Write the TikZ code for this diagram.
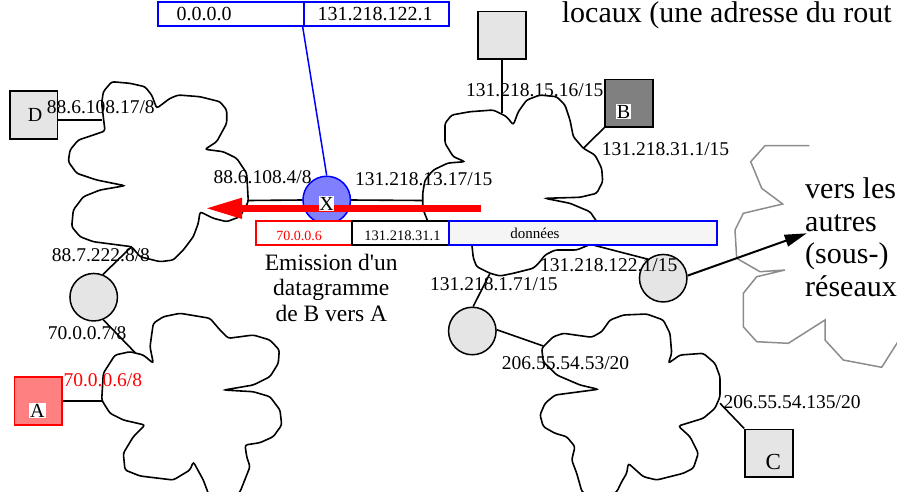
\documentclass[tikz,border=0pt]{standalone}
\usepackage{fontspec}
\setmainfont{Liberation Serif}
\usetikzlibrary{arrows.meta}
\definecolor{lightg}{HTML}{E5E5E5}
\definecolor{darkg}{HTML}{808080}
\definecolor{cloudg}{HTML}{8C8C8C}
\definecolor{xblue}{HTML}{8080FF}
\definecolor{apink}{HTML}{FF8080}
\definecolor{datag}{HTML}{F5F5F5}
\tikzset{
  cloudline/.style={line width=1.6pt, rounded corners=2.5pt},
  conn/.style={line width=1.6pt},
  sqbox/.style={rectangle, draw, line width=1.8pt, minimum size=47.5pt, inner sep=0pt},
  rtr/.style={circle, draw, line width=1.5pt, fill=lightg, minimum size=47.5pt, inner sep=0pt},
  lbl/.style={font=\fontsize{19.5}{22}\selectfont, anchor=base west, inner sep=0pt},
  letter/.style={font=\fontsize{20}{22}\selectfont, inner sep=1pt},
  tabbox/.style={rectangle, line width=1.9pt, minimum height=24pt, inner sep=0pt, anchor=north west},
  big/.style={font=\fontsize{30}{32}\selectfont, anchor=base west, inner sep=0pt},
  mid/.style={font=\fontsize{23.5}{25}\selectfont, anchor=base, inner sep=0pt}
}
\begin{document}
\begin{tikzpicture}[x=1pt,y=-1pt]
\useasboundingbox (0,0) rectangle (897,491);
\clip (0,0) rectangle (897,491);

% ---- clouds ----
\draw[cloudline] (105,131) -- (101.7,103.3) -- (103.3,91.7) -- (111.7,81.7) -- (130,83.3) -- (145,86.7) -- (151.7,95) -- (156.7,108.3) -- (170,98.3) -- (178.3,95) -- (200,96.7) -- (220,101.7) -- (226.7,110) -- (226.7,123.3) -- (216.7,141.7) -- (205,149.3) -- (223.3,151.7) -- (236.7,158.3) -- (246.7,173.3) -- (248.3,201.7) -- (240,216.7) -- (226.7,221.7) -- (213.3,218.3) -- (200,211.7) -- (198.3,223.3) -- (193.3,236.7) -- (183.3,250) -- (173.3,260) -- (160,261.7) -- (140,256.7) -- (131.7,246.7) -- (93.3,241.7) -- (80,236.7) -- (71.7,226.7) -- (73.3,210) -- (83.3,196.7) -- (100,190) -- (125,185.7) -- (96.7,180) -- (76.7,173.3) -- (68.3,161.7) -- (70,150) -- (78.3,140) -- (93.3,135) -- cycle;

\draw[cloudline] (465,161.7) -- (453.3,156.7) -- (445,143.3) -- (445,123.3) -- (451.7,115) -- (470,111.7) -- (493.3,110) -- (506.7,116.7) -- (513.3,125) -- (518.3,111.7) -- (526.7,100) -- (540,95) -- (556.7,96.7) -- (565,105) -- (570,120) -- (573.3,136.7) -- (583.3,148.3) -- (595,155) -- (601.7,168.3) -- (602.7,181.7) -- (596.7,193.3) -- (580,197.3) -- (545,198.3) -- (570,203.3) -- (590,211.7) -- (597,222) -- (597,236) -- (590,244.5) -- (576.7,250) -- (555,250) -- (545,255) -- (540,261.7) -- (533.3,268.3) -- (513.3,273.3) -- (500,276) -- (490,273.3) -- (476.7,266.7) -- (473.3,258) -- (471.7,243) -- (450,236) -- (428,222) -- (422.7,208.3) -- (422.7,193.3) -- (425,180) -- (433.3,170) -- (448,163) -- cycle;

\draw[cloudline] (153.3,363.3) -- (150,346.7) -- (153.3,323.3) -- (163.3,316.7) -- (180,313.3) -- (210,318.3) -- (220,330) -- (228.3,338.3) -- (253.3,335) -- (270,340) -- (279.3,350) -- (278.3,363.3) -- (270,376.7) -- (253.3,385) -- (224,390) -- (253.3,391.7) -- (270,396.7) -- (280,410) -- (281.7,425) -- (273.3,436.7) -- (260,442.7) -- (245,445) -- (246.7,456.7) -- (250,466.7) -- (240,492) -- (226,505) -- (210,498) -- (203.3,480) -- (193.3,461.7) -- (190,470) -- (173.3,480) -- (140,476) -- (125,470) -- (123.3,453.3) -- (133.3,436.7) -- (145,425) -- (123.3,420) -- (110,413.3) -- (101.7,400) -- (103.3,373.3) -- (115,355) -- (130,351.7) -- (143.3,355) -- cycle;

\draw[cloudline] (598.3,389.3) -- (580,385) -- (556.7,375) -- (543.3,361.7) -- (541.7,348.3) -- (553.3,336.7) -- (563.3,333.3) -- (591.7,337.3) -- (601.7,331.7) -- (610,320) -- (623.3,315) -- (646.7,314) -- (663.3,320) -- (670,333.3) -- (671.7,353.3) -- (668.3,363.3) -- (680,355) -- (703.3,353.3) -- (715,363.3) -- (720,376.7) -- (720,396.7) -- (715,408.3) -- (703.3,418.3) -- (678.3,426) -- (690,436.7) -- (698.3,453.3) -- (693.3,468.3) -- (683.3,473.3) -- (656.7,480) -- (643.3,476.7) -- (628.3,463.3) -- (626.7,473.3) -- (621.7,481.7) -- (616.7,492) -- (600,500) -- (582,492) -- (576.7,473.3) -- (571.7,460) -- (575,446.7) -- (566.7,436.7) -- (555,433.3) -- (543.3,426.7) -- (540,415) -- (545,403.3) -- (555,395) -- cycle;

% grey cloud
\draw[line width=1.5pt, cloudg] (809.3,145.7) -- (765,145.7) -- (750.7,161.7) -- (761.7,188.3) -- (782.7,204) -- (743.3,213.3) -- (735,230) -- (736.7,258.3) -- (760,271.7) -- (785,270) -- (756.7,276.7) -- (743.3,293.3) -- (743.3,326.7) -- (756.7,341.7) -- (788.3,343.3) -- (825,320) -- (825,340) -- (843.3,360) -- (881.7,367.3) -- (899,340);

% ---- attachment coordinates ----
\coordinate (c1d) at (102,119.7);
\coordinate (c1x) at (248.3,200.5);
\coordinate (c1r) at (131.7,246.5);
\coordinate (c2t) at (501.85,113.3);
\coordinate (c2b) at (583.3,148.3);
\coordinate (c2x) at (422.7,200.5);
\coordinate (c2r) at (490,273.3);
\coordinate (c2g) at (591,244.5);
\coordinate (c3a) at (101.7,401);
\coordinate (c3r) at (135,352.5);
\coordinate (c4r) at (543.3,346);
\coordinate (c4c) at (720,403.3);
\coordinate (tip) at (806.7,233.3);
\coordinate (arrS) at (481,208.3);
\coordinate (arrE) at (205,208.3);

% ---- hosts ----
\node[sqbox, fill=lightg] (D) at (33.65,114.85) {};
\node[sqbox, fill=lightg] (T) at (501.85,35.15) {};
\node[sqbox, fill=darkg] (B) at (628.85,103.15) {};
\node[sqbox, draw=red, fill=apink] (A) at (38.15,400.85) {};
\node[sqbox, fill=lightg] (C) at (768.85,453.15) {};

% ---- routers ----
\node[rtr] (R1) at (93.7,297.2) {};
\node[rtr] (R2) at (472.3,331) {};
\node[rtr] (R3) at (663.2,278.2) {};
\node[rtr, draw=blue, fill=xblue] (X) at (326.7,200) {};

% ---- connectors ----
\draw[conn] (c1d -| D.east) -- (c1d);
\draw[conn] (T.south) -- (c2t);
\draw[conn] (B.south west) -- (c2b);
\draw[conn] (c3a -| A.east) -- (c3a);
\draw[conn] (C.north west) -- (c4c);
\draw[conn] (R1.68) -- (c1r);
\draw[conn] (R1.-67) -- (c3r);
\draw[conn] (R2.88) -- (c2r);
\draw[conn] (R2.3) -- (c4r);
\draw[conn] (c2g) -- (R3.129);
\draw[conn] (X.west) -- (c1x);
\draw[conn] (X.east) -- (c2x);
\draw[line width=2pt, -{Triangle[length=22pt,width=12pt]}] (R3.6) -- (tip);

% ---- routing table entry ----
\node[tabbox, draw=blue, fill=white, minimum width=146pt] (tb1) at (156.7,1) {};
\node[tabbox, draw=blue, fill=white, minimum width=145.6pt] (tb2) at (302.7,1) {};
\node[font=\fontsize{20}{22}\selectfont, anchor=base, inner sep=0pt] (t0) at (204,20.7) {0.0.0.0};
\node[font=\fontsize{20}{22}\selectfont, anchor=base, inner sep=0pt] (t1) at (375,20.7) {131.218.122.1};
\draw[line width=1.5pt, blue] (tb2.south west) -- (X.north);

% ---- datagram ----
\node[tabbox, draw=red, fill=white, minimum width=96pt] (dg1) at (255,220) {};
\node[tabbox, draw=black, fill=white, minimum width=97.3pt] (dg2) at (351,220) {};
\node[tabbox, draw=blue, fill=datag, minimum width=267.7pt] (dg3) at (448.3,220) {};
\node[font=\fontsize{14}{16}\selectfont, anchor=base, inner sep=0pt, text=red] (d1) at (299.2,240) {70.0.0.6};
\node[font=\fontsize{14.5}{16}\selectfont, anchor=base, inner sep=0pt] (d2) at (402.5,240) {131.218.31.1};
\node[font=\fontsize{15}{17}\selectfont, anchor=base, inner sep=0pt] (d3) at (535,238) {données};

% ---- red arrow ----
\draw[red, line width=7pt, -{Triangle[length=37pt,width=19pt]}] (arrS) -- (arrE);

% ---- letters ----
\node[letter] (Dl) at (35,115) {D};
\node[letter, fill=white] (Bl) at (623.5,111.7) {B};
\node[letter, fill=white] (Al) at (37.3,410.7) {A};
\node[letter, font=\fontsize{23}{25}\selectfont] (Cl) at (773.3,461.7) {C};
\node[letter, fill=white, inner sep=0.5pt] (Xl) at (326.5,203.5) {X};

% ---- address labels ----
\node[lbl] (l1) at (46.7,113.3) {88.6.108.17/8};
\node[lbl] (l2) at (213.3,183.3) {88.6.108.4/8};
\node[lbl] (l3) at (355,185) {131.218.13.17/15};
\node[lbl] (l4) at (466,96.7) {131.218.15.16/15};
\node[lbl] (l5) at (601.7,155) {131.218.31.1/15};
\node[lbl] (l6) at (51.7,261.7) {88.7.222.8/8};
\node[lbl] (l7) at (47.7,339) {70.0.0.7/8};
\node[lbl, text=red] (l8) at (63.3,386.7) {70.0.0.6/8};
\node[lbl] (l9) at (540,271.7) {131.218.122.1/15};
\node[lbl] (l10) at (430,290) {131.218.1.71/15};
\node[lbl] (l11) at (501.7,369.3) {206.55.54.53/20};
\node[lbl] (l12) at (723.3,408.3) {206.55.54.135/20};

% ---- texts ----
\node[big] (top) at (561.7,22) {locaux (une adresse du rout};
\node[big] (v1) at (805,198.3) {vers les};
\node[big] (v2) at (805,231.7) {autres};
\node[big] (v3) at (805,263.3) {(sous-)};
\node[big] (v4) at (805,296.7) {réseaux};
\node[mid] (e1) at (331.3,270) {Emission d\textquotesingle un};
\node[mid] (e2) at (331.3,295) {datagramme};
\node[mid] (e3) at (331.3,321) {de B vers A};
\end{tikzpicture}
\end{document}
